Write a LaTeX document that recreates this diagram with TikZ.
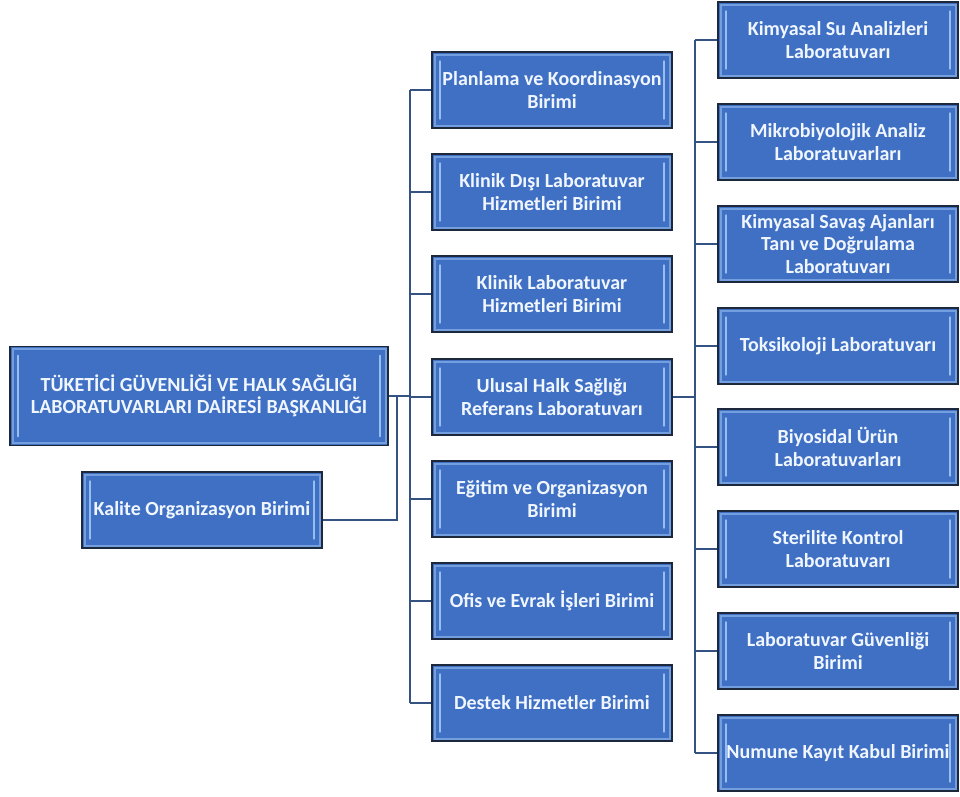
\documentclass[tikz,border=0pt]{standalone}
\usepackage{fontspec}
\setmainfont{Carlito}
\usetikzlibrary{positioning}
\definecolor{boxblue}{RGB}{64,112,196}
\definecolor{boxedge}{RGB}{30,40,60}
\definecolor{rimblue}{RGB}{150,190,240}
\definecolor{linkblue}{RGB}{52,82,130}
\definecolor{txtwhite}{RGB}{240,246,255}
\newcommand{\unitfont}{\bfseries\fontsize{20}{22.5}\selectfont}

\begin{document}
\begin{tikzpicture}[x=1pt,y=-1pt,
   unit/.style={draw=boxedge,fill=boxblue,line width=1.5pt,
      minimum width=240pt,minimum height=76pt,inner sep=0pt,
      align=center,text=txtwhite,font=\unitfont,
      path picture={
        \draw[rimblue!60!boxblue,line width=2pt]
          ([shift={(2.5pt,-2.5pt)}]path picture bounding box.north west) rectangle
          ([shift={(-2.5pt,2.5pt)}]path picture bounding box.south east);
        \draw[rimblue,line width=1.4pt,line cap=round]
          ([shift={(8pt,-9pt)}]path picture bounding box.north west) --
          ([shift={(8pt,9pt)}]path picture bounding box.south west);
        \draw[rimblue,line width=1.4pt,line cap=round]
          ([shift={(-8pt,-9pt)}]path picture bounding box.north east) --
          ([shift={(-8pt,9pt)}]path picture bounding box.south east);}},
   link/.style={draw=linkblue,line width=1.6pt}]
   \useasboundingbox (0,0) rectangle (960,796);
   % left side
   \node[unit,minimum width=378pt,minimum height=99pt] (daire) at (199,396)
      {TÜKETİCİ GÜVENLİĞİ VE HALK SAĞLIĞI\\LABORATUVARLARI DAİRESİ BAŞKANLIĞI};
   \node[unit] (kalite) at (202,510) {Kalite Organizasyon Birimi};
   % middle column
   \node[unit] (planlama) at (552, 90) {Planlama ve Koordinasyon\\Birimi};
   \node[unit] (klinikdisi) at (552,192) {Klinik Dışı Laboratuvar\\Hizmetleri Birimi};
   \node[unit] (klinik)   at (552,294) {Klinik Laboratuvar\\Hizmetleri Birimi};
   \node[unit] (ulusal)   at (552,397) {Ulusal Halk Sağlığı\\Referans Laboratuvarı};
   \node[unit] (egitim)   at (552,499) {Eğitim ve Organizasyon\\Birimi};
   \node[unit] (ofis)     at (552,601) {Ofis ve Evrak İşleri Birimi};
   \node[unit] (destek)   at (552,703) {Destek Hizmetler Birimi};
   % right column
   \node[unit] (kimyasal) at (838, 40) {Kimyasal Su Analizleri\\Laboratuvarı};
   \node[unit] (mikro)    at (838,142) {Mikrobiyolojik Analiz\\Laboratuvarları};
   \node[unit] (savas)    at (838,244) {Kimyasal Savaş Ajanları\\Tanı ve Doğrulama\\Laboratuvarı};
   \node[unit] (toksik)   at (838,346) {Toksikoloji Laboratuvarı};
   \node[unit] (biyosidal) at (838,447) {Biyosidal Ürün\\Laboratuvarları};
   \node[unit] (sterilite) at (838,549) {Sterilite Kontrol\\Laboratuvarı};
   \node[unit] (guvenlik) at (838,651) {Laboratuvar Güvenliği\\Birimi};
   \node[unit] (numune)   at (838,753) {Numune Kayıt Kabul Birimi};
   % trunks
   \coordinate (ltop) at (410, 90);
   \coordinate (lbot) at (410,703);
   \coordinate (rtop) at (695, 40);
   \coordinate (rbot) at (695,753);
   \coordinate (kturn) at (397,520);
   \draw[link] (ltop) -- (lbot);
   \draw[link] (rtop) -- (rbot);
   \draw[link] (daire.east) -- (daire.east -| ltop);
   \draw[link] (daire.east -| kturn) -- (kturn) -- (kturn -| kalite.east);
   \foreach \n in {planlama,klinikdisi,klinik,ulusal,egitim,ofis,destek}
      \draw[link] (\n.west -| ltop) -- (\n.west);
   \draw[link] (ulusal.east) -- (ulusal.east -| rtop);
   \foreach \n in {kimyasal,mikro,savas,toksik,biyosidal,sterilite,guvenlik,numune}
      \draw[link] (\n.west -| rtop) -- (\n.west);
\end{tikzpicture}
\end{document}
